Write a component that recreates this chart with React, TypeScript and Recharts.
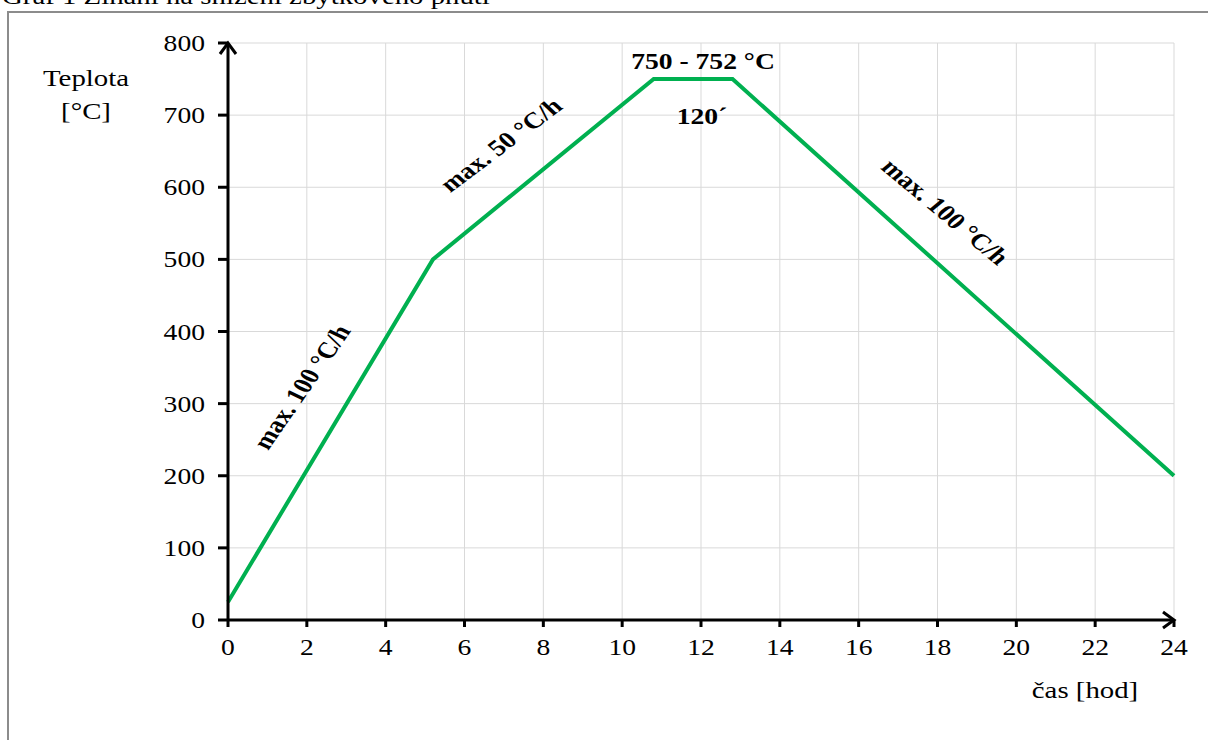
import { CartesianGrid, Line, LineChart, XAxis, YAxis } from "recharts";

// annealing profile: time [h] vs temperature [°C]
const times = [0, 5.2, 10.8, 12.8, 24];
const temps = [25, 500, 750, 750, 200];
const xTicks = [0, 2, 4, 6, 8, 10, 12, 14, 16, 18, 20, 22, 24];
const yTicks = [0, 100, 200, 300, 400, 500, 600, 700, 800];

const data = times.map((t, i) => ({ t, temp: temps[i] }));

const SERIF = '"Liberation Serif", "Times New Roman", serif';
const STRETCH = 1.2;

function XTick({ x, y, payload }: any) {
  return (
    <g transform={`translate(${x},${y})`}>
      <text
        transform={`scale(${STRETCH},1)`}
        textAnchor="middle"
        dy={28}
        fontSize={23}
        fontFamily={SERIF}
        fill="#000"
      >
        {payload.value}
      </text>
    </g>
  );
}

function YTick({ x, y, payload }: any) {
  return (
    <g transform={`translate(${x},${y})`}>
      <text
        transform={`scale(${STRETCH},1)`}
        textAnchor="end"
        dy={8}
        fontSize={23}
        fontFamily={SERIF}
        fill="#000"
      >
        {payload.value}
      </text>
    </g>
  );
}

function Label({
  x,
  y,
  text,
  size = 23,
  bold = false,
  rotate = 0,
}: {
  x: number;
  y: number;
  text: string;
  size?: number;
  bold?: boolean;
  rotate?: number;
}) {
  return (
    <div
      style={{
        position: "absolute",
        left: x,
        top: y,
        transform: `translate(-50%,-50%) scaleX(${STRETCH}) rotate(${rotate}deg)`,
        fontFamily: SERIF,
        fontSize: size,
        fontWeight: bold ? "bold" : "normal",
        lineHeight: 1,
        whiteSpace: "nowrap",
        color: "#000",
      }}
    >
      {text}
    </div>
  );
}

export default function App() {
  return (
    <div
      style={{
        position: "absolute",
        left: 0,
        top: 0,
        width: 1208,
        height: 740,
        overflow: "hidden",
        background: "#fff",
      }}
    >
      <div
        style={{
          position: "absolute",
          left: 2,
          top: -17,
          fontFamily: SERIF,
          fontSize: 24,
          whiteSpace: "nowrap",
          transform: `scaleX(${STRETCH})`,
          transformOrigin: "left",
        }}
      >
        Graf 1 Žíhání na snížení zbytkového pnutí
      </div>
      <div
        style={{
          position: "absolute",
          left: 7,
          top: 11,
          width: 1220,
          height: 760,
          border: "2px solid #8c8c8c",
        }}
      />
      <div style={{ position: "absolute", left: 0, top: 0 }}>
        <LineChart
          width={1208}
          height={740}
          data={data}
          margin={{ top: 43, right: 34, bottom: 90, left: 0 }}
        >
          <defs>
            <marker
              id="arrowHead"
              viewBox="0 0 14 18"
              refX={12}
              refY={9}
              markerWidth={14}
              markerHeight={18}
              markerUnits="userSpaceOnUse"
              orient="auto-start-reverse"
              overflow="visible"
            >
              <path d="M1,1 L12,9 L1,17" fill="none" stroke="#000" strokeWidth={3} />
            </marker>
          </defs>
          <CartesianGrid stroke="#d9d9d9" strokeWidth={1} />
          <XAxis
            dataKey="t"
            type="number"
            domain={[0, 24]}
            ticks={xTicks}
            height={30}
            tickSize={7}
            tickMargin={0}
            axisLine={{ stroke: "#000", strokeWidth: 3, markerEnd: "url(#arrowHead)" }}
            tickLine={{ stroke: "#000", strokeWidth: 3 }}
            tick={<XTick />}
            interval={0}
          />
          <YAxis
            type="number"
            domain={[0, 800]}
            ticks={yTicks}
            width={228}
            tickSize={10}
            tickMargin={13}
            axisLine={{ stroke: "#000", strokeWidth: 3, markerStart: "url(#arrowHead)" }}
            tickLine={{ stroke: "#000", strokeWidth: 3 }}
            tick={<YTick />}
            interval={0}
          />
          <Line
            type="linear"
            dataKey="temp"
            stroke="#00B050"
            strokeWidth={4}
            dot={false}
            activeDot={false}
            isAnimationActive={false}
          />
        </LineChart>
      </div>
      <Label x={86} y={78} text="Teplota" size={24} />
      <Label x={86} y={111} text="[°C]" size={24} />
      <Label x={1085} y={690} text="čas [hod]" size={24} />
      <Label x={703} y={61} text="750 - 752 °C" bold />
      <Label x={702} y={116} text="120´" bold />
      <Label x={302} y={387} text="max. 100 °C/h" bold rotate={-60} />
      <Label x={501} y={145} text="max. 50 °C/h" bold rotate={-42} />
      <Label x={945} y={212} text="max. 100 °C/h" bold rotate={45} />
    </div>
  );
}
